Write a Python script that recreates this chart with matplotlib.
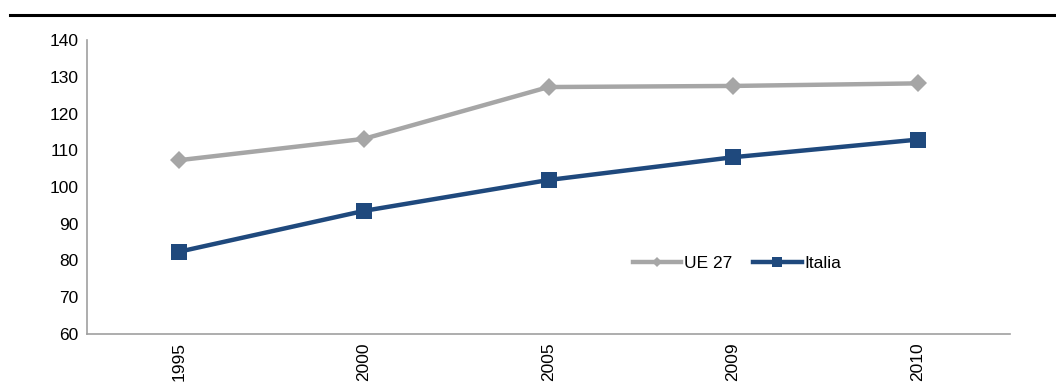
import matplotlib
matplotlib.use("Agg")
import matplotlib.pyplot as plt
from matplotlib.lines import Line2D

years = ["1995", "2000", "2005", "2009", "2010"]
ue27 = [107.3, 113.1, 127.2, 127.5, 128.2]
italia = [82.4, 93.5, 101.9, 108.1, 112.9]
yticks = [60, 70, 80, 90, 100, 110, 120, 130, 140]

plt.rcParams['font.family'] = ['Liberation Sans Narrow', 'Liberation Sans', 'DejaVu Sans']

W, H = 1056, 383
fig = plt.figure(figsize=(W / 100, H / 100), dpi=100)
ax = fig.add_axes([87 / W, 1 - 334 / H, (1010 - 87) / W, (334 - 40) / H])

x = list(range(len(years)))
gray = "#A6A6A6"
blue = "#1F497D"
ax.plot(x, ue27, color=gray, lw=3.2, marker="D", markersize=9, markeredgewidth=0,
        label="UE 27", zorder=3)
ax.plot(x, italia, color=blue, lw=3.2, marker="s", markersize=11, markeredgewidth=0,
        label="Italia", zorder=4)

ax.set_xlim(-0.5, len(years) - 0.5)
ax.set_ylim(60, 140)
ax.set_yticks(yticks)
ax.set_yticklabels([str(v) for v in yticks], fontsize=12.5)
ax.set_xticks(x)
ax.set_xticklabels(years, rotation=90, fontsize=12.5)
ax.tick_params(length=0, pad=6)
for s in ["top", "right"]:
    ax.spines[s].set_visible(False)
for s in ["left", "bottom"]:
    ax.spines[s].set_color("#A0A0A0")
    ax.spines[s].set_linewidth(1.2)

leg = ax.legend(loc="center", bbox_to_anchor=((737 - 87) / (1010 - 87), (334 - 263) / (334 - 40)),
                ncol=2, frameon=False, fontsize=12.5, handlelength=2.8, handletextpad=0.15,
                columnspacing=1.2, markerscale=0.6)

fig.add_artist(Line2D([10 / W, 1.0], [1 - 15 / H, 1 - 15 / H], color="black", lw=2.2))

fig.savefig("out.png", dpi=100)
